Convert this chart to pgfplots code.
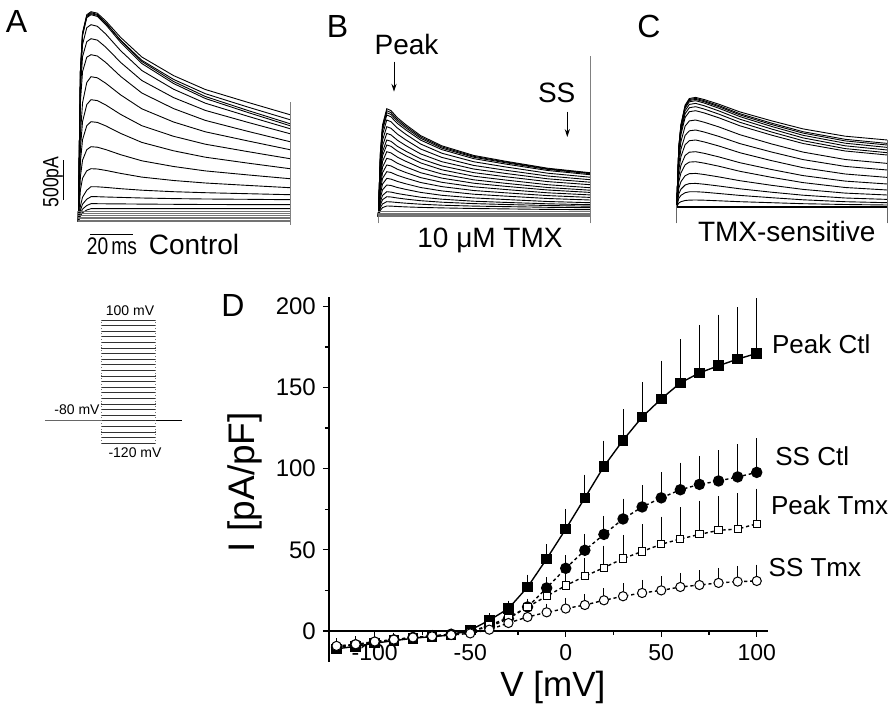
\documentclass[border=0pt]{standalone}
\usepackage{pgfplots}
\pgfplotsset{compat=1.18}
\usepackage{pgfplotstable}
\usepackage{graphicx}
\usepackage{fontspec}
\setmainfont{Liberation Sans}
\usetikzlibrary{arrows.meta}
\newcommand{\fs}[1]{\fontsize{#1}{#1}\selectfont}

% current traces, t in ms, amplitude (1 unit = 12.5 pA, bar = 500 pA)
\pgfplotstableread{
t   a1    a2    a3    a4    a5    a6    a7    a8    a9    a10   a11   a12   a13   a14   a15   a16
0   0     0     0     0     0     0     0     0     0     0     0     0     0     0     0     0
1   151   150   150   149   142   132   120   87    73.2  60    45    31.8  15.8  11.3  8.1   6
2   189   187   188   186   177   165   150   118.9 100   82    61.5  43.5  24.5  17.5  12.6  9
4   207   205   206   204   194   180   164.5 139.2 117.1 96    72    50.9  31.5  22.5  16.2  11.7
6   210   208   209   207   197   183   167   145   122   100   75    53    35    25    18    13
9   208.5 206.4 207.3 205.3 195.4 181.6 165.7 143.9 121.1 99.3  74.5  52.7  34.9  25    18    13
13  200.7 198.5 199   197   187.6 174.5 159.2 138.4 116.7 95.8  72.1  51.3  34.3  24.7  17.9  13
20  184.3 181.5 181.3 179.3 171   159.3 145.3 126.8 107.3 88.3  67    48.3  33    24.3  17.8  13
30  164.7 161.4 160.2 158.2 151.2 141.2 128.7 112.9 96    79.3  60.9  44.6  31.5  23.7  17.6  13
45  146.1 142.3 140.2 138.2 132.5 124.1 113.1 99.7  85.4  70.9  55.2  41.2  30    23.1  17.4  13
60  132.2 128   125.2 123.2 118.5 111.3 101.3 89.9  77.5  64.5  50.8  38.7  29    22.7  17.2  13
80  119.4 114.7 111.3 109.3 105.5 99.4  90.4  80.8  70.1  58.6  46.8  36.3  28    22.4  17.1  13
100 107   102   98    96    93    88    80    72    63    53    43    34    27    22    17    13
}\tabA
\pgfplotstableread{
t   z1  z2  z3  z4  z5  z6  z7
0   10  8   6   4.3 2.8 1.3 0
100 10  8   6   4.3 2.8 1.3 0
}\baseA

\pgfplotstableread{
t   b1    b2    b3    b4    b5    b6    b7    b8    b9    b10   b11   b12   b13   b14   b15   b16   b17   b18   b19
0   0     0     0     0     0     0     0     0     0     0     0     0     0     0     0     0     0     0     0
1   64.8  63.6  62.4  61    58    54    50    46    43    39    35    31    27    23    19    15    12    9     6.4
2   91.8  90.1  88.4  86.4  82.2  76.5  70.8  65.2  60.9  55.3  49.6  43.9  38.3  32.6  26.9  21.3  17    12.8  9.1
4   108   106   104   101.7 96.7  90    83.3  76.7  71.7  65    58.3  51.7  45    38.3  31.7  25    20    15    10.7
6   106.1 104.1 102.2 99.9  95    88.4  81.8  75.4  70.4  63.8  57.3  50.8  44.2  37.6  31.2  24.6  19.7  14.8  10.6
9   99    97.3  95.5  93.3  88.7  82.6  76.5  70.4  65.7  59.6  53.5  47.5  41.4  35.3  29.2  23.2  18.7  14.2  10.2
13  92    90.4  88.8  86.8  82.4  76.8  71.1  65.5  61    55.4  49.8  44.2  38.6  32.9  27.3  21.8  17.6  13.5  9.8
20  81.1  79.8  78.4  76.6  72.7  67.7  62.8  57.9  53.8  48.8  44    39.1  34.2  29.2  24.3  19.5  16    12.5  9.3
30  70.9  69.8  68.6  67.1  63.5  59.3  55    50.8  46.9  42.7  38.6  34.4  30.1  25.8  21.4  17.5  14.5  11.5  8.8
45  61.3  60.4  59.5  58.1  55    51.3  47.7  44.1  40.5  36.9  33.5  29.9  26.2  22.5  18.8  15.5  13.1  10.6  8.2
60  55.5  54.8  54    52.7  49.8  46.5  43.3  40    36.7  33.4  30.4  27.2  23.9  20.6  17.2  14.3  12.2  10.1  7.8
80  48.5  47.9  47.3  46.2  43.5  40.7  37.9  35.1  32    29.2  26.7  23.9  21.1  18.2  15.2  12.9  11.2  9.4   7.3
100 44    43.5  43    42    39.5  37    34.5  32    29    26.5  24.3  21.8  19.3  16.7  14    12    10.5  9     7
}\tabB
\pgfplotstableread{
t   z1  z2  z3  z4  z5
0   5   3.5 2   1   0
100 5   3.5 2   1   0
}\baseB

\pgfplotstableread{
t   c1    c2    c3    c4    c5    c6    c7    c8    c9    c10   c11   c12   c13   c14   c15   c16
0   0     0     0     0     0     0     0     0     0     0     0     0     0     0     0     0
1   60.1  59.6  59    58.3  56.8  55    52.8  47.7  42.2  36.7  30.3  24.8  18.3  12.8  8.3   3.7
2   82    81.2  80.5  79.5  77.5  75    72    65    57.5  50    41.3  33.8  25    17.5  11.3  5
4   101.6 100.7 99.8  98.6  96.1  93    89.3  80.6  71.3  62    51.2  41.9  31    21.7  14    6.2
6   108.2 107.2 106.2 104.9 102.3 99    95    85.8  75.9  66    54.5  44.6  33    23.1  14.9  6.6
9   109.3 108.3 107.3 106   103.3 100   96    86.7  76.7  66.7  55    45    33.3  23.3  15    6.7
13  107.2 106   105   103.7 101   97.7  93.8  84.5  74.7  64.8  53.4  43.6  32.2  22.5  14.5  6.5
20  102.5 101.1 100   98.5  95.8  92.6  88.9  79.8  70.3  60.7  49.8  40.5  29.8  20.7  13.2  5.9
30  94.8  93    91.8  90.1  87.5  84.4  80.9  72    63.1  54    44    35.4  26    17.9  11.3  5
45  85.9  83.6  82.2  80.3  77.7  74.7  71.6  62.8  54.7  46.1  37.2  29.4  21.4  14.5  9     4
60  77.8  75    73.6  71.4  68.8  66    63.2  54.6  47.1  39    31.1  24.1  17.3  11.5  6.9   3
80  70.5  67.4  65.8  63.5  60.9  58.1  55.7  47.2  40.3  32.7  25.6  19.2  13.6  8.7   5     2.2
100 66.7  63.3  61.7  59.3  56.7  54    51.7  43.3  36.7  29.3  22.7  16.7  11.7  7.3   4     1.7
}\tabC

% I-V data: mean and upward SEM
\pgfplotstableread{
V    pc     pce   sc    sce   pt    pte   st    ste
-120 -11    4     -10   3     -10   3     -9.2  3
-110 -9.5   3.5   -8.5  3     -8.5  3     -8.2  3
-100 -7.5   3     -7    2.5   -7    2.5   -6.5  2.5
-90  -6     2.5   -5.5  2.5   -5.5  2.5   -5.3  2.5
-80  -4.5   2     -4    2     -4    2     -4    2
-70  -3.5   2     -3    2     -3.2  2     -3.3  2
-60  -2.5   1.5   -2    1.5   -2.2  1.5   -2.5  1.5
-50  0.5    1.5   0     1     -0.5  1     -1.5  1.5
-40  6.6    2.4   2.5   1.5   3.5   1.5   0.8   1.5
-30  13.8   3     7.6   2.5   8.2   2     4.9   2
-20  27     5.8   14.8  2.5   14.8  3.2   8.6   3
-10  44.4   7.3   26.5  4.7   21.4  6.6   11.5  3.5
0    62.8   10.5  38.6  6.2   28    7     13.8  4.7
10   82     12.5  49.7  8.2   33.7  9.4   16    5
20   101.4  14    59.5  9.5   39    11.7  18.9  5.7
30   117.5  17.2  69    10.7  44.6  12.7  21.4  6.1
40   131.8  19.7  76.4  11.6  49    15    23.4  6.2
50   143    21.7  82    13.9  53.4  15.2  25    7
60   152.8  25.2  87    14.8  56.7  17.6  27.1  6.9
70   159    27.7  90.3  15.7  59.5  18.9  28.3  7.4
80   163.4  29.6  92.4  17.2  62    19.3  29.6  7.4
90   167.5  30    94.9  18.4  62.8  20.2  30.4  7.8
100  171    32    97.7  19.3  66    19.8  30.8  8.2
}\tabIV

\begin{document}
\begin{tikzpicture}
\useasboundingbox (0,0) rectangle (445pt,-353pt);

% ---- A: control
\begin{axis}[at={(39.15pt,-110.85pt)}, anchor=south west, scale only axis,
  width=105.85pt, height=107.5pt, xmin=0, xmax=100, ymin=0, ymax=215,
  hide axis, clip=false]
\pgfplotsinvokeforeach{1,...,16}{
  \addplot[black, line width=0.45pt, no marks] table[x=t, y=a#1] {\tabA};}
\pgfplotsinvokeforeach{1,...,7}{
  \addplot[black!55, line width=0.45pt, no marks] table[x=t, y=z#1] {\baseA};}
\addplot[black!50, line width=0.4pt, no marks] coordinates {(100,-3.3)(100,120)};
\addplot[black, line width=0.6pt, no marks] coordinates {(-7.1,21.7)(-7.1,61.7)};
\addplot[black, line width=0.6pt, no marks] coordinates {(5.5,-12.6)(26,-12.6)};
\end{axis}

% ---- B: 10 uM TMX
\begin{axis}[at={(189.15pt,-108.35pt)}, anchor=south west, scale only axis,
  width=105.85pt, height=56pt, xmin=0, xmax=100, ymin=0, ymax=112,
  hide axis, clip=false]
\pgfplotsinvokeforeach{1,...,19}{
  \addplot[black, line width=0.45pt, no marks] table[x=t, y=b#1] {\tabB};}
\pgfplotsinvokeforeach{1,...,5}{
  \addplot[black!55, line width=0.45pt, no marks] table[x=t, y=z#1] {\baseB};}
\addplot[black!50, line width=0.4pt, no marks] coordinates {(100,-6.6)(100,160.7)};
\addplot[black!50, line width=0.4pt, no marks] coordinates {(0,-6.6)(0,0)};
\end{axis}

% ---- C: TMX-sensitive
\begin{axis}[at={(338.35pt,-103.35pt)}, anchor=south west, scale only axis,
  width=105.3pt, height=56pt, xmin=0, xmax=100, ymin=0, ymax=112,
  hide axis, clip=false]
\pgfplotsinvokeforeach{1,...,16}{
  \addplot[black, line width=0.45pt, no marks] table[x=t, y=c#1] {\tabC};}
\addplot[black, line width=1pt, no marks] coordinates {(0,0)(100,0)};
\addplot[black!60, line width=0.4pt, no marks] coordinates {(0,-16.6)(0,2)};
\addplot[black!60, line width=0.4pt, no marks] coordinates {(100,-16.6)(100,66.7)};
\end{axis}

% ---- voltage protocol
\begin{axis}[at={(22.5pt,-221.65pt)}, anchor=south west, scale only axis,
  width=68.4pt, height=61.65pt, xmin=-104, xmax=148, ymin=-120, ymax=100,
  hide axis, clip=false]
\pgfplotsinvokeforeach{-120,-110,-100,-90,-80,-70,-60,-50,-40,-30,-20,-10,0,10,20,30,40,50,60,70,80,90,100}{
  \addplot[black!80, line width=0.45pt, no marks] coordinates {(0,#1)(100,#1)};}
\addplot[black!55, line width=0.4pt, densely dotted, no marks] coordinates {(0,-120)(0,100)};
\addplot[black!55, line width=0.4pt, densely dotted, no marks] coordinates {(100,-120)(100,100)};
\addplot[black!60, line width=0.5pt, no marks] coordinates {(-104,-80)(0,-80)};
\addplot[black, line width=0.5pt, no marks] coordinates {(100,-80)(148,-80)};
\end{axis}

% ---- D: I-V relation
\begin{axis}[at={(164.45pt,-330.9pt)}, anchor=south west, scale only axis,
  width=219.65pt, height=182.6pt,
  xmin=-124, xmax=106, ymin=-19, ymax=206,
  axis x line*=middle, axis y line*=left,
  xtick={-100,-50,0,50,100}, xticklabels={-100,-50,0,50,100},
  minor xtick={-75,-25,25,75},
  ytick={0,50,100,150,200}, minor ytick={25,75,125,175},
  tick align=outside, major tick length=3pt, minor tick length=2pt,
  tick style={line width=0.6pt, black},
  axis line style={line width=0.9pt},
  /pgf/number format/assume math mode=true,
  x tick label style={font=\fs{11.5}},
  y tick label style={font=\fs{12}},
  xlabel={V [mV]}, ylabel={I [pA/pF]},
  xlabel style={at={(axis description cs:0.51,-0.069)}, anchor=center, font=\fs{17.5}},
  ylabel style={at={(axis description cs:-0.191,0.492)}, anchor=center, font=\fs{18.5}},
  error bars/error bar style={line width=0.5pt, solid},
  error bars/error mark options={line width=0.5pt, mark size=1.5pt},
  clip=false]
\addplot[black, line width=0.7pt, mark=square*, mark size=2.3pt,
  error bars/.cd, y dir=plus, y explicit]
  table[x=V, y=pc, y error=pce] {\tabIV};
\addplot[black, line width=0.7pt, dash pattern=on 1.6pt off 1.4pt,
  mark=*, mark size=2.5pt, mark options={solid},
  error bars/.cd, y dir=plus, y explicit]
  table[x=V, y=sc, y error=sce] {\tabIV};
\addplot[black, line width=0.7pt, dash pattern=on 1.6pt off 1.4pt,
  mark=square*, mark size=1.8pt, mark options={solid, fill=white, line width=0.5pt},
  error bars/.cd, y dir=plus, y explicit]
  table[x=V, y=pt, y error=pte] {\tabIV};
\addplot[black, line width=0.7pt, dash pattern=on 1.6pt off 1.4pt,
  mark=*, mark size=2.3pt, mark options={solid, fill=white, line width=0.5pt},
  error bars/.cd, y dir=plus, y explicit]
  table[x=V, y=st, y error=ste] {\tabIV};
\end{axis}

% ---- labels
\node[font=\fs{16}] at (8.25pt,-10.5pt) {A};
\node[font=\fs{16}] at (168.75pt,-13pt) {B};
\node[font=\fs{16}] at (324.5pt,-13pt) {C};
\node[font=\fs{16}] at (116.5pt,-152.5pt) {D};

\node[font=\fs{11}, rotate=90] at (26.5pt,-91pt) {\scalebox{0.8}[1]{500pA}};
\node[font=\fs{12}] at (56pt,-123pt) {\scalebox{0.8}[1]{20\,ms}};
\node[font=\fs{14}] at (97pt,-122pt) {Control};
\node[font=\fs{14}] at (245pt,-120pt) {10 μM TMX};
\node[font=\fs{14}] at (393.35pt,-115.5pt) {TMX-sensitive};

\node[font=\fs{14}] at (203.25pt,-22pt) {Peak};
\draw[line width=0.5pt, -{Stealth[length=4pt, width=2.6pt]}] (197pt,-30.85pt) -- (197pt,-45.85pt);
\node[font=\fs{14}] at (278.35pt,-46.5pt) {SS};
\draw[line width=0.5pt, -{Stealth[length=4pt, width=2.6pt]}] (283.65pt,-55.85pt) -- (283.65pt,-68.5pt);

\node[font=\fs{7}] at (65pt,-155.5pt) {100 mV};
\node[font=\fs{7}, anchor=east, inner sep=0pt] at (50pt,-205pt) {-80 mV};
\node[font=\fs{7}] at (67.5pt,-226.5pt) {-120 mV};

\node[font=\fs{13}, anchor=west, inner sep=0pt] at (385.85pt,-172pt) {Peak Ctl};
\node[font=\fs{13}, anchor=west, inner sep=0pt] at (387.5pt,-228.35pt) {SS Ctl};
\node[font=\fs{13}, anchor=west, inner sep=0pt] at (385.35pt,-252.5pt) {Peak Tmx};
\node[font=\fs{13}, anchor=west, inner sep=0pt] at (384.15pt,-284pt) {SS Tmx};
\end{tikzpicture}
\end{document}
